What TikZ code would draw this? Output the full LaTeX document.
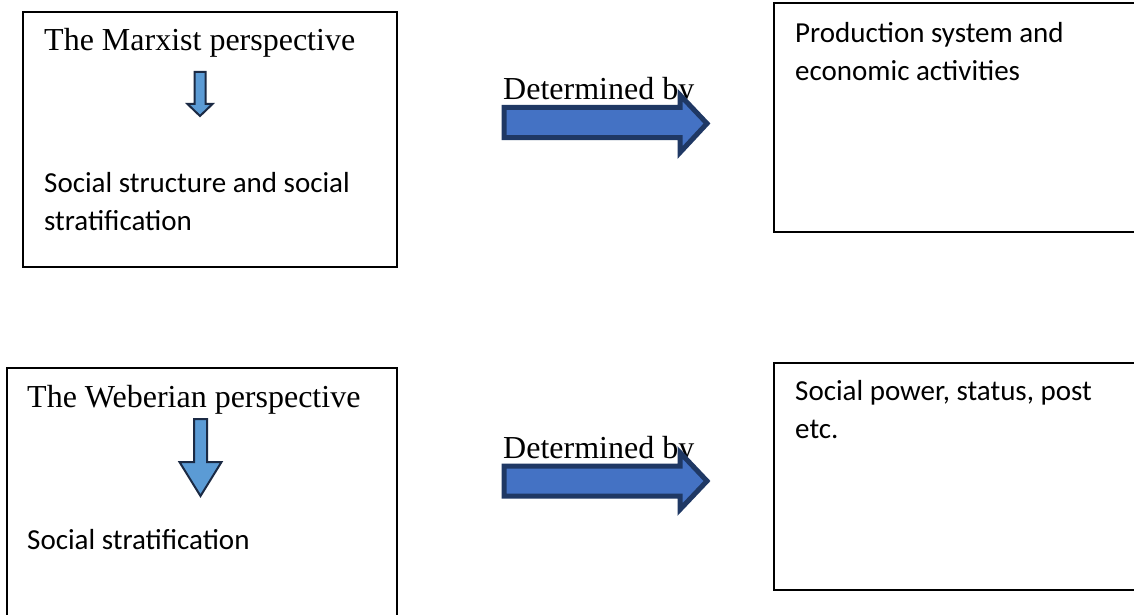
\documentclass[tikz,border=0pt]{standalone}
\usepackage{fontspec}
\setmainfont{Liberation Serif}
\newfontfamily\calibrifont{Carlito}
\definecolor{bigfill}{HTML}{4472C4}
\definecolor{bigline}{HTML}{1F3864}
\definecolor{smallfill}{HTML}{5B9BD5}
\definecolor{smallline}{HTML}{1B2A44}
\tikzset{
  framebox/.style={draw=black, line width=1.6pt},
  seriftext/.style={anchor=base west, inner sep=0pt, font=\fontsize{32}{38}\selectfont},
  sanstext/.style={anchor=base west, inner sep=0pt, font=\calibrifont\fontsize{29}{38}\selectfont},
  bigarrow/.style={draw=bigline, fill=bigfill, line width=5pt, line join=miter, miter limit=10},
  smallarrow/.style={draw=smallline, fill=smallfill, line width=2pt, line join=miter, miter limit=10}
}
\begin{document}
\begin{tikzpicture}[x=1pt,y=-1pt]
\useasboundingbox (0,0) rectangle (1134,615);
\clip (0,0) rectangle (1134,615);
\fill[white] (0,0) rectangle (1134,615);

% boxes
\draw[framebox] (23,12) rectangle (397,267);
\draw[framebox] (7,368) rectangle (397,640);
\draw[framebox] (774,3) rectangle (1145,232);
\draw[framebox] (774,363) rectangle (1145,590);

% texts
\node[seriftext] (marx) at (44,51) {The Marxist perspective};
\node[sanstext] (ss1) at (44,192) {Social structure and social};
\node[sanstext] (ss2) at (44,230) {stratification};
\node[seriftext] (weber) at (27,407) {The Weberian perspective};
\node[sanstext] (wstrat) at (27,549) {Social stratification};
\node[sanstext] (prod1) at (795,43) {Production system and};
\node[sanstext] (prod2) at (795,81) {economic activities};
\node[sanstext] (pow1) at (795,400) {Social power, status, post};
\node[sanstext] (pow2) at (795,438) {etc.};
\node[seriftext] (det1) at (503,100) {Determined by};
\node[seriftext] (det2) at (503,458) {Determined by};

% small down arrows
\draw[smallarrow] (194.5,72) -- (205.5,72) -- (205.5,104) -- (212.5,104) -- (200,116)
  -- (187.5,104) -- (194.5,104) -- cycle;
\draw[smallarrow] (194,419) -- (207,419) -- (207,462) -- (221.5,462) -- (200.5,496)
  -- (179.5,462) -- (194,462) -- cycle;

% big right arrows
\draw[bigarrow] (504,107.5) -- (680,107.5) -- (680,95) -- (707,123.5) -- (680,152.5)
  -- (680,137.5) -- (504,137.5) -- cycle;
\draw[bigarrow] (504,466) -- (680,466) -- (680,452.5) -- (707,481) -- (680,509.5)
  -- (680,496) -- (504,496) -- cycle;
\end{tikzpicture}
\end{document}
